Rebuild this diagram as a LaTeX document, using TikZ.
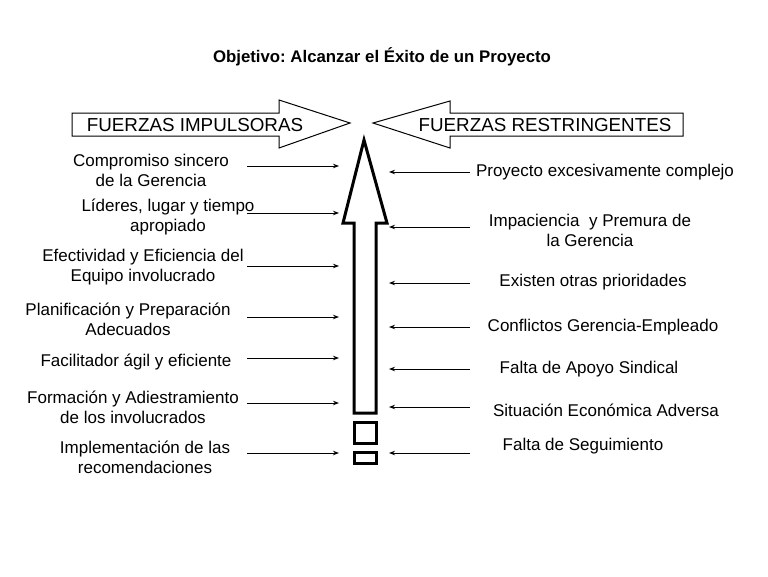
\documentclass[tikz,border=0pt]{standalone}
\usepackage{fontspec}
\setmainfont{Liberation Sans}
\frenchspacing
\usetikzlibrary{arrows.meta}
\tikzset{fz/.style={font=\fontsize{17}{20}\selectfont,align=center,inner sep=0pt},
flecha/.style={-{Stealth[length=6pt,width=4.5pt]},line width=1pt}}

\begin{document}
\begin{tikzpicture}[x=1pt,y=-1pt]
\useasboundingbox(0,0)rectangle(768,576);
\node[font=\bfseries\fontsize{16.8}{20}\selectfont](titulo)at(382,57){Objetivo: Alcanzar el Éxito de un Proyecto};
% flechas de bloque
\draw[line width=1pt](72,113)--(279,113)--(279,100)--(350,123)--(279,148)--(279,136)--(72,136)--cycle;
\draw[line width=1pt](683,113)--(450,113)--(450,101)--(373,123)--(450,148)--(450,136)--(683,136)--cycle;
\node[font=\fontsize{18.8}{20}\selectfont](impulsoras)at(195,125){FUERZAS IMPULSORAS};
\node[font=\fontsize{18.8}{20}\selectfont](restringentes)at(545,125){FUERZAS RESTRINGENTES};
% flecha central
\draw[line width=3pt,miter limit=20](354,413)--(354,223)--(343,223)--(364,140)--(387,223)--(376,223)--(376,413)--cycle;
\draw[line width=3pt](354,422)rectangle(376,443);
\draw[line width=3pt](354,452)rectangle(376,463);
% fuerzas impulsoras
\node[fz](l1)at(151,170){Compromiso sincero\\de la Gerencia};
\node[fz](l2)at(168,217){Líderes, lugar y tiempo\\apropiado};
\node[fz](l3)at(143,267){Efectividad y Eficiencia del\\Equipo involucrado};
\node[fz](l4)at(128,319){Planificación y Preparación\\Adecuados};
\node[fz](l5)at(136,362){Facilitador ágil y eficiente};
\node[fz](l6)at(133,407){Formación y Adiestramiento\\de los involucrados};
\node[fz](l7)at(145,457){Implementación de las\\recomendaciones};
\path(247,166)coordinate(a1)(339,166)coordinate(b1)
(247,213)coordinate(a2)(339,213)coordinate(b2)
(247,266)coordinate(a3)(339,266)coordinate(b3)
(247,317)coordinate(a4)(339,317)coordinate(b4)
(247,358)coordinate(a5)(339,358)coordinate(b5)
(247,403)coordinate(a6)(339,403)coordinate(b6)
(247,453)coordinate(a7)(339,453)coordinate(b7);
\draw[flecha](a1)--(b1);\draw[flecha](a2)--(b2);\draw[flecha](a3)--(b3);
\draw[flecha](a4)--(b4);\draw[flecha](a5)--(b5);\draw[flecha](a6)--(b6);
\draw[flecha](a7)--(b7);
% fuerzas restringentes
\node[fz](r1)at(605,172){Proyecto excesivamente complejo};
\node[fz](r2)at(590,230){Impaciencia\ \ y Premura de\\la Gerencia};
\node[fz](r3)at(593,282){Existen otras prioridades};
\node[fz](r4)at(603,327){Conflictos Gerencia-Empleado};
\node[fz](r5)at(589,369){Falta de Apoyo Sindical};
\node[fz](r6)at(606,410){Situación Económica Adversa};
\node[fz](r7)at(583,446){Falta de Seguimiento};
\path(470,172)coordinate(c1)(389,172)coordinate(d1)
(470,227)coordinate(c2)(389,227)coordinate(d2)
(470,283)coordinate(c3)(389,283)coordinate(d3)
(470,327)coordinate(c4)(389,327)coordinate(d4)
(470,369)coordinate(c5)(389,369)coordinate(d5)
(470,407)coordinate(c6)(389,407)coordinate(d6)
(470,453)coordinate(c7)(389,453)coordinate(d7);
\draw[flecha](c1)--(d1);\draw[flecha](c2)--(d2);\draw[flecha](c3)--(d3);
\draw[flecha](c4)--(d4);\draw[flecha](c5)--(d5);\draw[flecha](c6)--(d6);
\draw[flecha](c7)--(d7);
\end{tikzpicture}
\end{document}
